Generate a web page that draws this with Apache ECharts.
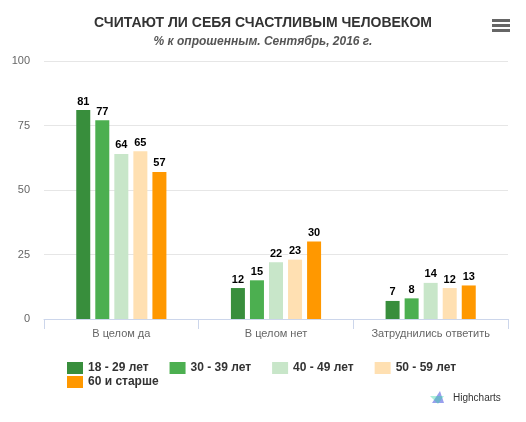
<!DOCTYPE html>
<html>
<head>
<meta charset="utf-8">
<script src="https://cdn.jsdelivr.net/npm/echarts@6/dist/echarts.min.js"></script>
<style>
html, body { margin: 0; padding: 0; background: #fff; }
#chart { width: 526px; height: 422px; }
</style>
</head>
<body>
<div id="chart"></div>
<script>
const categories = ['В целом да', 'В целом нет', 'Затруднились ответить'];
const seriesNames = ['18 - 29 лет', '30 - 39 лет', '40 - 49 лет', '50 - 59 лет', '60 и старше'];
const age18 = [81, 12, 7];
const age30 = [77, 15, 8];
const age40 = [64, 22, 14];
const age50 = [65, 23, 12];
const age60 = [57, 30, 13];
const yTicks = [0, 25, 50, 75, 100];

const font = '"Liberation Sans", Arial, sans-serif';
const colors = ['#388e3c', '#4caf50', '#c8e6c9', '#ffe0b2', '#ff9800'];
const values = [age18, age30, age40, age50, age60];

const chart = echarts.init(document.getElementById('chart'));

const legendText = { fontSize: 12, fontWeight: 'bold', color: '#333', fontFamily: font };

const option = {
	color: colors,
	textStyle: { fontFamily: font },
	title: {
		text: 'СЧИТАЮТ ЛИ СЕБЯ СЧАСТЛИВЫМ ЧЕЛОВЕКОМ',
		subtext: '% к опрошенным. Сентябрь, 2016 г.',
		left: 'center',
		top: 11,
		itemGap: 6,
		textStyle: { fontSize: 14, fontWeight: 'bold', color: '#333', fontFamily: font },
		subtextStyle: { fontSize: 12, fontWeight: 'bold', fontStyle: 'italic', color: '#555', fontFamily: font }
	},
	legend: [
		{
			data: seriesNames.slice(0, 4),
			left: 62,
			top: 357,
			itemWidth: 16,
			itemHeight: 12,
			itemGap: 21,
			icon: 'rect',
			textStyle: legendText
		},
		{
			data: seriesNames.slice(4),
			left: 62,
			top: 371,
			itemWidth: 16,
			itemHeight: 12,
			icon: 'rect',
			textStyle: legendText
		}
	],
	grid: {
		left: 44,
		right: 18,
		top: 61,
		bottom: 103
	},
	xAxis: {
		type: 'category',
		data: categories,
		axisLine: { show: true, lineStyle: { color: '#ccd6eb' } },
		axisTick: { show: true, length: 10, lineStyle: { color: '#ccd6eb' } },
		axisLabel: { color: '#666', fontSize: 11, margin: 9 }
	},
	yAxis: {
		type: 'value',
		min: yTicks[0],
		max: yTicks[yTicks.length - 1],
		interval: 25,
		axisLabel: { color: '#666', fontSize: 11, margin: 14 },
		splitLine: { lineStyle: { color: '#e6e6e6' } }
	},
	graphic: [
		// export menu icon
		{ type: 'rect', shape: { x: 492, y: 19, width: 18, height: 3 }, style: { fill: '#666' } },
		{ type: 'rect', shape: { x: 492, y: 24, width: 18, height: 3 }, style: { fill: '#666' } },
		{ type: 'rect', shape: { x: 492, y: 29, width: 18, height: 3 }, style: { fill: '#666' } },
		// credits
		{ type: 'polygon', shape: { points: [[432, 403], [440, 391], [444, 403]] }, style: { fill: '#8087e8', opacity: 0.8 } },
		{ type: 'polygon', shape: { points: [[430, 396], [444, 396], [438, 404]] }, style: { fill: '#30d5a0', opacity: 0.4 } },
		{ type: 'text', left: 453, top: 393, style: { text: 'Highcharts', fill: '#333', font: '10px ' + font } }
	],
	series: values.map((vals, i) => ({
		name: seriesNames[i],
		type: 'bar',
		data: vals,
		barWidth: 14,
		barGap: '36%',
		label: {
			show: true,
			position: 'top',
			distance: 3,
			fontSize: 11,
			fontWeight: 'bold',
			color: '#000',
			textBorderColor: '#fff',
			textBorderWidth: 2,
			fontFamily: font
		}
	}))
};

chart.setOption(option);
</script>
</body>
</html>
